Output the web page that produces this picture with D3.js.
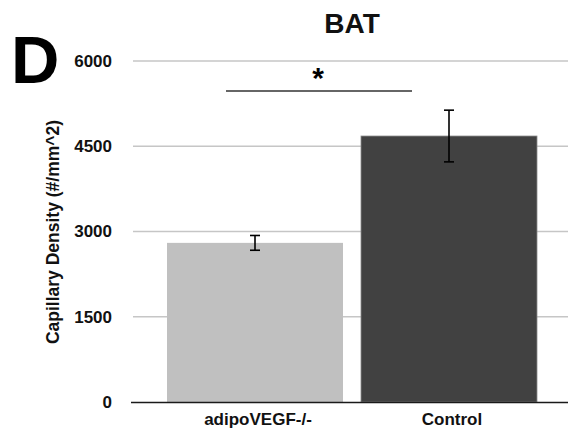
<!DOCTYPE html>
<html>
<head>
<meta charset="utf-8">
<script src="https://cdn.jsdelivr.net/npm/d3@7/dist/d3.min.js"></script>
<style>
  html, body { margin: 0; padding: 0; background: #fff; }
  svg { display: block; }
  text { font-family: "Liberation Sans", Arial, Helvetica, sans-serif; }
</style>
</head>
<body>
<script>
// Capillary density in brown adipose tissue
const groups = ["adipoVEGF-/-", "Control"];
const means = [2800, 4680];
const errors = [130, 455];
const barColors = ["#c0c0c0", "#414141"];
const yTicks = [0, 1500, 3000, 4500, 6000];

const W = 568, H = 433;
const svg = d3.select("body").append("svg").attr("width", W).attr("height", H);

const y = d3.scaleLinear().domain([0, 6000]).range([402, 61]);
const x = d3.scaleBand().domain(groups).range([158, 546])
  .paddingInner(0.0928).paddingOuter(0.0464);

// horizontal gridlines
svg.append("g").selectAll("line").data(yTicks.filter(d => d > 0)).join("line")
  .attr("x1", 133).attr("x2", W)
  .attr("y1", d => y(d)).attr("y2", d => y(d))
  .attr("stroke", "#c6c6c6").attr("stroke-width", 1.5);

// y axis tick labels
const yAxis = d3.axisLeft(y).tickValues(yTicks).tickSize(0).tickPadding(0).tickFormat(d3.format("d"));
const gy = svg.append("g").attr("transform", "translate(112,0)").call(yAxis);
gy.select(".domain").remove();
gy.selectAll("text")
  .attr("font-family", "'Liberation Sans', Arial, sans-serif")
  .attr("font-size", 17).attr("font-weight", "bold").attr("fill", "#111");

// bars
svg.append("g").selectAll("rect").data(groups).join("rect")
  .attr("x", d => x(d))
  .attr("width", x.bandwidth())
  .attr("y", (d, i) => y(means[i]))
  .attr("height", (d, i) => y(0) - y(means[i]))
  .attr("fill", (d, i) => barColors[i])
  .attr("stroke", (d, i) => i === 1 ? "#8a8a8a" : "none")
  .attr("stroke-width", 0.8);

// baseline
svg.append("line")
  .attr("x1", 131).attr("x2", W)
  .attr("y1", y(0) + 0.5).attr("y2", y(0) + 0.5)
  .attr("stroke", "#1a1a1a").attr("stroke-width", 1.6);

// error bars
const eb = svg.append("g").selectAll("g").data(groups).join("g")
  .attr("transform", d => `translate(${x(d) + x.bandwidth() / 2},0)`);
eb.append("line")
  .attr("y1", (d, i) => y(means[i] + errors[i]))
  .attr("y2", (d, i) => y(means[i] - errors[i]))
  .attr("stroke", "#000").attr("stroke-width", 1.6);
eb.selectAll("line.cap").data((d, i) => [means[i] + errors[i], means[i] - errors[i]]).join("line")
  .attr("class", "cap")
  .attr("x1", -5).attr("x2", 5)
  .attr("y1", v => y(v)).attr("y2", v => y(v))
  .attr("stroke", "#000").attr("stroke-width", 1.6);

// category labels
svg.append("g").selectAll("text").data(groups).join("text")
  .attr("x", d => x(d) + x.bandwidth() / 2 + 3)
  .attr("y", 425)
  .attr("text-anchor", "middle")
  .attr("font-size", 17).attr("font-weight", "bold").attr("fill", "#111")
  .text(d => d);

// y axis title
svg.append("text")
  .attr("transform", "translate(59,232) rotate(-90)")
  .attr("text-anchor", "middle")
  .attr("font-size", 17.5).attr("font-weight", "bold").attr("fill", "#111")
  .text("Capillary Density (#/mm^2)");

// significance bracket
svg.append("line")
  .attr("x1", 226).attr("x2", 412).attr("y1", 91).attr("y2", 91)
  .attr("stroke", "#333").attr("stroke-width", 1.6);
svg.append("text")
  .attr("x", 318).attr("y", 88)
  .attr("text-anchor", "middle")
  .attr("font-size", 30).attr("font-weight", "bold").attr("fill", "#000")
  .text("*");

// title
svg.append("text")
  .attr("x", 352).attr("y", 33)
  .attr("text-anchor", "middle")
  .attr("font-size", 28).attr("font-weight", "bold").attr("fill", "#111")
  .text("BAT");

// panel letter
svg.append("text")
  .attr("x", 11).attr("y", 83)
  .attr("font-size", 67).attr("font-weight", "bold").attr("fill", "#000")
  .text("D");
</script>
</body>
</html>
